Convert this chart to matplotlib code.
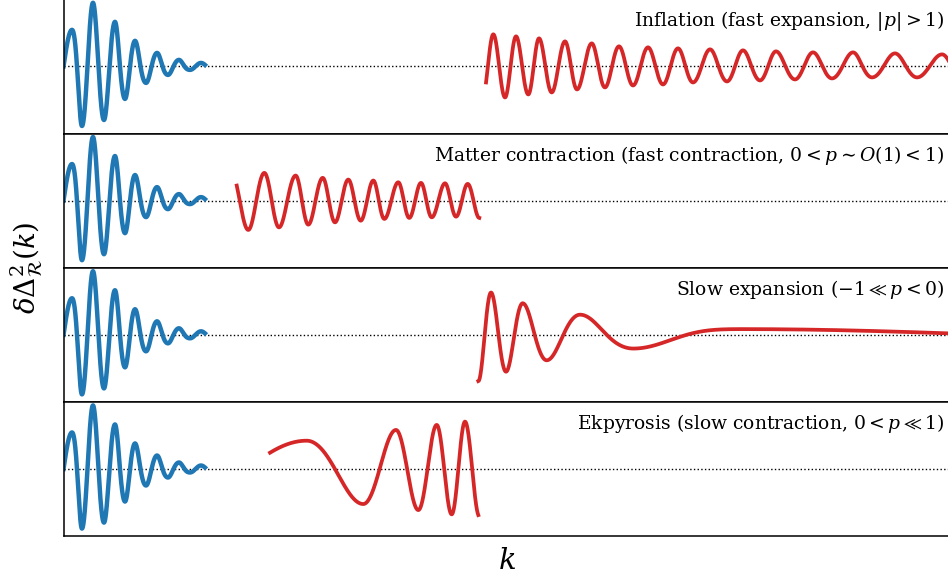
import numpy as np
import matplotlib.pyplot as plt

plt.rcParams['font.family'] = 'DejaVu Serif'
plt.rcParams['mathtext.fontset'] = 'dejavuserif'

# Each wave: first sample, its turning points (peaks/troughs, alternating), last sample.
# k on a 0..10 axis, amplitude on a -1..1 axis.
blue_k = [0.0, 0.096, 0.208, 0.332, 0.456, 0.580, 0.693, 0.806, 0.930, 1.054,
          1.177, 1.301, 1.425, 1.549, 1.594]
blue_amp = [0.0, 0.545, -0.888, 0.948, -0.799, 0.664, -0.485, 0.381, -0.246, 0.201,
            -0.127, 0.097, -0.052, 0.052, 0.022]

inflation_k = [4.761, 4.843, 4.975, 5.099, 5.237, 5.358, 5.501, 5.651, 5.786, 5.952,
               6.101, 6.259, 6.417, 6.586, 6.755, 6.924, 7.093, 7.285, 7.476, 7.656,
               7.848, 8.028, 8.242, 8.445, 8.659, 8.896, 9.110, 9.369, 9.617, 9.899,
               10.0]
inflation_amp = [-0.239, 0.478, -0.463, 0.448, -0.418, 0.418, -0.388, 0.373, -0.343, 0.343,
                 -0.313, 0.299, -0.284, 0.284, -0.269, 0.269, -0.239, 0.254, -0.224, 0.239,
                 -0.209, 0.224, -0.194, 0.209, -0.179, 0.209, -0.164, 0.194, -0.164, 0.179,
                 0.02]

matter_k = [1.952, 2.082, 2.263, 2.428, 2.616, 2.758, 2.921, 3.059, 3.209, 3.349,
            3.491, 3.615, 3.772, 3.896, 4.028, 4.149, 4.299, 4.423, 4.554, 4.685]
matter_amp = [0.224, -0.437, 0.413, -0.399, 0.373, -0.358, 0.339, -0.324, 0.313, -0.299,
              0.299, -0.273, 0.273, -0.258, 0.264, -0.249, 0.258, -0.239, 0.249, -0.258]

slow_k = [4.674, 4.817, 4.986, 5.174, 5.444, 5.820, 6.420, 7.623, 10.0]
slow_amp = [-0.69, 0.63, -0.55, 0.47, -0.38, 0.30, -0.205, 0.085, 0.02]

ekpyrosis_k = [2.327, 2.740, 3.378, 3.746, 3.998, 4.205, 4.374, 4.524, 4.674]
ekpyrosis_amp = [0.243, 0.422, -0.522, 0.582, -0.612, 0.657, -0.676, 0.706, -0.687]

labels = [
    r"Inflation (fast expansion, $|p| > 1$)",
    r"Matter contraction (fast contraction, $0 < p \sim O(1) < 1$)",
    r"Slow expansion ($-1 \ll p < 0$)",
    r"Ekpyrosis (slow contraction, $0 < p \ll 1$)",
]
red_waves = [(inflation_k, inflation_amp), (matter_k, matter_amp),
             (slow_k, slow_amp), (ekpyrosis_k, ekpyrosis_amp)]


def wave(k_pts, amp_pts, n=3000):
    # cosine through the turning points; phase linear and envelope eased in between
    k_pts = np.asarray(k_pts, float)
    a = np.asarray(amp_pts, float)
    ext = a[1:-1]
    p0 = 0.0 if ext[0] > 0 else np.pi
    phase = np.zeros(len(a))
    phase[1:-1] = p0 + np.pi * np.arange(len(ext))
    env = np.abs(a)
    env[0] = max(abs(a[0]), abs(ext[0]))
    env[-1] = max(abs(a[-1]), abs(ext[-1]))
    phase[0] = phase[1] - np.arccos(np.clip(a[0] * np.sign(ext[0]) / env[0], -1, 1))
    phase[-1] = phase[-2] + np.arccos(np.clip(a[-1] * np.sign(ext[-1]) / env[-1], -1, 1))

    k = np.linspace(k_pts[0], k_pts[-1], n)
    seg = np.clip(np.searchsorted(k_pts, k, side='right') - 1, 0, len(k_pts) - 2)
    t = (k - k_pts[seg]) / (k_pts[seg + 1] - k_pts[seg])
    ease = (1 - np.cos(np.pi * t)) / 2
    e = env[seg] + (env[seg + 1] - env[seg]) * ease
    ph = phase[seg] + (phase[seg + 1] - phase[seg]) * t
    return k, e * np.cos(ph)


W, H = 948, 581
fig = plt.figure(figsize=(W / 100, H / 100), dpi=100)
left, right = 63.5, 951
edges = [-0.7, 133.5, 267.7, 401.9, 536.1]

bk, by = wave(blue_k, blue_amp)
axes = []
for i in range(4):
    top, bot = edges[i], edges[i + 1]
    ax = fig.add_axes([left / W, 1 - bot / H, (right - left) / W, (bot - top) / H])
    ax.axhline(0, color='black', linestyle=':', linewidth=1.0, zorder=1)
    ax.plot(bk, by, color='#1f77b4', linewidth=3.2, zorder=2)
    rk, ry = wave(*red_waves[i])
    ax.plot(rk, ry, color='#d62728', linewidth=2.7, zorder=2)
    ax.text(0.992, 0.925, labels[i], transform=ax.transAxes, ha='right', va='top',
            fontsize=13.5)
    ax.set_xlim(0, 10)
    ax.set_ylim(-1, 1)
    ax.set_xticks([])
    ax.set_yticks([])
    for s in ax.spines.values():
        s.set_linewidth(1.1)
    axes.append(ax)

axes[-1].set_xlabel(r"$k$", fontsize=21, labelpad=8)
fig.text(27 / W, 1 - 268 / H, r"$\delta\Delta^2_{\mathcal{R}}(k)$", rotation=90,
         ha='center', va='center', fontsize=20)

fig.savefig("out.png", dpi=100)
